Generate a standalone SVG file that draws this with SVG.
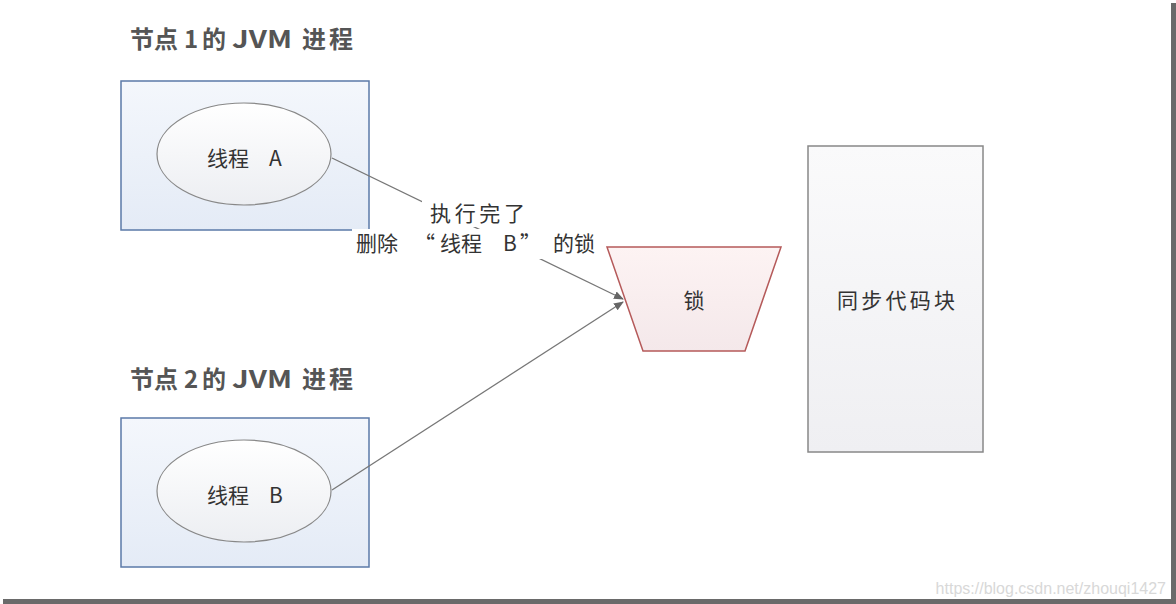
<svg xmlns="http://www.w3.org/2000/svg" width="1176" height="604" viewBox="0 0 1176 604">
<defs>
<linearGradient id="gBox" x1="0" y1="0" x2="0" y2="1">
<stop offset="0" stop-color="#f4f7fc"/><stop offset="1" stop-color="#e4ebf6"/>
</linearGradient>
<linearGradient id="gEll" x1="0" y1="0" x2="0" y2="1">
<stop offset="0" stop-color="#ffffff"/><stop offset="1" stop-color="#eceef2"/>
</linearGradient>
<linearGradient id="gLock" x1="0" y1="0" x2="0" y2="1">
<stop offset="0" stop-color="#fdf3f3"/><stop offset="1" stop-color="#f4e8ea"/>
</linearGradient>
<linearGradient id="gCode" x1="0" y1="0" x2="0" y2="1">
<stop offset="0" stop-color="#fafafb"/><stop offset="1" stop-color="#efeff2"/>
</linearGradient>
<marker id="arr" viewBox="0 0 10 10" refX="9" refY="5" markerWidth="10" markerHeight="10" markerUnits="userSpaceOnUse" orient="auto">
<path d="M0,1 L10,5 L0,9 z" fill="#666"/>
</marker>
<style>
.t{font-family:"Noto Sans CJK SC","Liberation Sans",sans-serif;fill:#333;font-size:21px;}
.title{font-family:"Noto Sans CJK SC","Liberation Sans",sans-serif;font-size:24px;font-weight:bold;fill:#555;}
.proc{fill:url(#gBox);stroke:#5b7aa8;stroke-width:1.5;}
.ell{fill:url(#gEll);stroke:#888;stroke-width:1.2;}
.conn{stroke:#777;stroke-width:1.3;fill:none;}
</style>
</defs>
<rect width="1176" height="604" fill="#ffffff"/>
<g id="frame">
<rect x="1171" y="3" width="5" height="601" fill="#6a6a6a"/>
<rect x="3" y="599" width="1173" height="5" fill="#6a6a6a"/>
</g>
<g id="node1">
<text class="title" x="130" y="48">节点<tspan x="184">1</tspan><tspan x="202">的</tspan><tspan x="232" textLength="60" lengthAdjust="spacingAndGlyphs">JVM</tspan><tspan x="302">进</tspan><tspan x="329">程</tspan></text>
<rect class="proc" x="121" y="81" width="248" height="149"/>
<ellipse class="ell" cx="244" cy="154" rx="87" ry="51"/>
<text class="t" x="207" y="166">线程<tspan x="269">A</tspan></text>
</g>
<g id="node2">
<text class="title" x="130" y="388">节点<tspan x="184">2</tspan><tspan x="202">的</tspan><tspan x="232" textLength="60" lengthAdjust="spacingAndGlyphs">JVM</tspan><tspan x="302">进</tspan><tspan x="329">程</tspan></text>
<rect class="proc" x="121" y="418" width="248" height="149"/>
<ellipse class="ell" cx="244" cy="491" rx="87" ry="51"/>
<text class="t" x="207" y="503">线程<tspan x="269">B</tspan></text>
</g>
<g id="lock">
<polygon points="607,247 781,247 745,351 643,351" fill="url(#gLock)" stroke="#b55a5a" stroke-width="1.5"/>
<text class="t" x="694" y="308" font-size="22" text-anchor="middle">锁</text>
</g>
<g id="code">
<rect x="808" y="146" width="175" height="306" fill="url(#gCode)" stroke="#888" stroke-width="1.5"/>
<text class="t" x="837" y="308" font-size="22" textLength="118" lengthAdjust="spacing">同步代码块</text>
</g>
<g id="connectors">
<line class="conn" x1="332" y1="158" x2="623" y2="299" marker-end="url(#arr)"/>
<line class="conn" x1="332" y1="490" x2="623" y2="302" marker-end="url(#arr)"/>
<rect x="422" y="199" width="106" height="28" fill="#ffffff"/>
<rect x="352" y="229" width="250" height="30" fill="#ffffff"/>
<text class="t" x="430" y="221" textLength="95" lengthAdjust="spacing">执行完了</text>
<text class="t" x="356" y="251">删除<tspan x="414">“</tspan><tspan x="440">线程</tspan><tspan x="503">B</tspan><tspan x="520">”</tspan><tspan x="553">的锁</tspan></text>
</g>
<text x="1166" y="594" font-family="Liberation Sans, sans-serif" font-size="16" fill="#d8d8d8" text-anchor="end">https://blog.csdn.net/zhouqi1427</text>
</svg>
